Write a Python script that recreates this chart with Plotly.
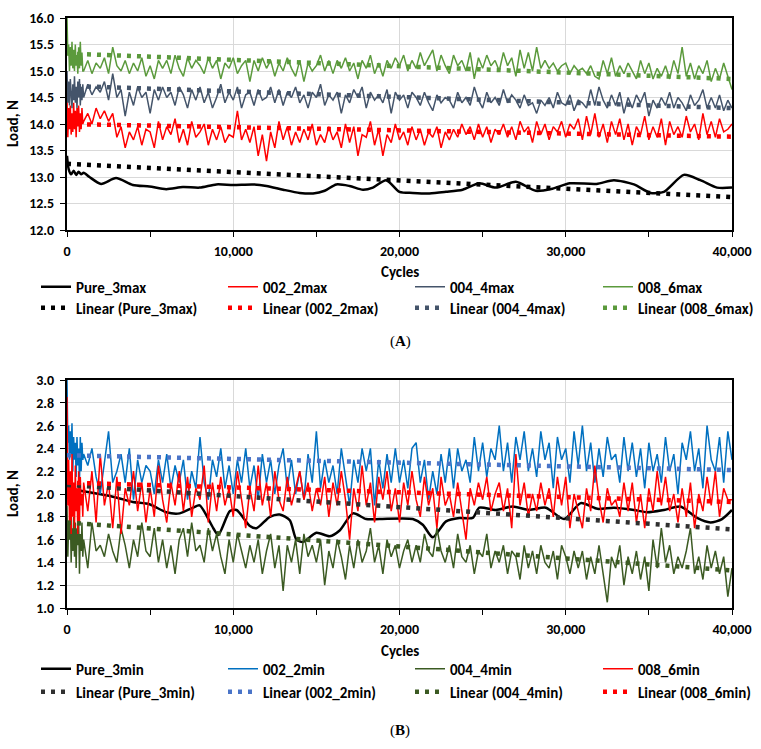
import plotly.graph_objects as go

# ---------------- DATA ----------------
cycles = list(range(0, 1000, 50)) + list(range(1000, 40001, 250))

# Panel A (max loads)
pure_max_x = [0, 100, 250, 400, 550, 700, 850, 1000, 1350, 2050,
              2950, 3960, 4960, 5970, 6970, 7980, 8980, 10000, 11200, 12000,
              13000, 14000, 14800, 15500, 16200, 17000, 17800, 18400, 19200, 20000,
              20800, 21800, 22800, 23800, 24800, 25800, 27000, 28200, 29200, 30250,
              31850, 32900, 34100, 35100, 35900, 37100, 38100, 39100, 40000]
pure_max_y = [13.4, 13.15, 13.05, 13.12, 13.04, 13.1, 13.05, 13.08, 13.0, 12.87,
              12.98, 12.85, 12.82, 12.77, 12.81, 12.8, 12.86, 12.85, 12.86, 12.83,
              12.76, 12.7, 12.69, 12.74, 12.86, 12.83, 12.76, 12.8, 12.94, 12.72,
              12.70, 12.69, 12.72, 12.76, 12.88, 12.80, 12.91, 12.74, 12.78, 12.88,
              12.87, 12.94, 12.86, 12.70, 12.72, 13.04, 12.94, 12.80, 12.80]

max_002 = [14.5, 13.75, 14.3, 13.9, 14.35, 13.8, 14.2, 13.85, 14.4, 13.9,
           14.25, 13.75, 14.3, 14.0, 14.35, 13.85, 14.2, 13.9, 14.3, 14.0,
           14.05, 14.2, 14.0, 14.3,
           14.1, 14.25, 14.05, 14.2,
           13.75, 13.95, 13.55, 13.85,
           13.7, 13.95, 13.6, 13.9,
           13.85, 13.55, 14.05, 13.7,
           13.95, 13.8, 14.1, 13.65,
           13.9, 13.6, 14.05, 13.75,
           13.85, 14.0, 13.6, 13.9,
           13.7, 13.95, 13.65, 13.8,
           13.75, 14.25, 13.7, 13.9,
           13.65, 13.95, 13.4, 13.8,
           13.3, 13.85, 13.55, 14.05,
           13.7, 13.95, 13.6, 13.85,
           13.65, 13.9, 13.7, 14.0,
           13.6, 13.8, 13.65, 13.95,
           13.7, 13.85, 13.55, 14.0,
           13.65, 13.95, 13.4, 13.8,
           13.75, 14.05, 13.6, 13.9,
           13.4, 13.8, 13.65, 14.0,
           13.7, 13.85, 13.6, 13.95,
           13.7, 13.9, 13.6, 13.85,
           13.75, 13.95, 13.55, 13.85,
           13.7, 13.9, 13.75, 14.0,
           13.8, 13.95, 13.7, 14.0,
           13.75, 13.95, 13.65, 13.9,
           13.8, 14.0, 13.75, 13.95,
           13.7, 14.05, 13.85, 13.95,
           13.65, 14.05, 13.8, 14.0,
           13.7, 13.95, 13.85, 14.05,
           13.75, 14.0, 13.9, 14.1,
           13.7, 14.15, 13.8, 14.2,
           13.75, 14.0, 13.65, 14.05,
           13.8, 14.1, 13.7, 14.0,
           13.6, 13.95, 13.8, 14.15,
           13.7, 13.95, 13.75, 14.1,
           13.6, 14.05, 13.8, 13.95,
           13.75, 14.15, 13.85, 14.0,
           13.7, 14.2, 13.8, 14.05,
           13.75, 14.1, 13.85, 13.9,
           14.0]

max_004 = [15.0, 14.4, 14.8, 14.35, 14.85, 14.5, 14.3, 14.75, 14.45, 14.9,
           14.4, 14.7, 14.3, 14.8, 14.5, 14.85, 14.35, 14.7, 14.45, 14.75,
           14.5, 14.75, 14.55, 14.7,
           14.6, 14.8, 14.45, 14.95,
           14.5, 14.65, 14.15, 14.6,
           14.35, 14.7, 14.5, 14.6,
           14.2, 14.65, 14.45, 14.7,
           14.5, 14.6, 14.35, 14.7,
           14.55, 14.3, 14.65, 14.45,
           14.7, 14.4, 14.6, 14.3,
           14.5, 14.75, 14.4, 14.6,
           14.45, 14.7, 14.3, 14.55,
           14.6, 14.35, 14.65, 14.45,
           14.5, 14.7, 14.4, 14.65,
           14.35, 14.6, 14.5, 14.7,
           14.4, 14.55, 14.3, 14.6,
           14.5, 14.75, 14.35, 14.55,
           14.45, 14.6, 14.2, 14.55,
           14.4, 14.65, 14.5, 14.7,
           14.3, 14.6, 14.45, 14.55,
           14.4, 14.65, 14.2, 14.6,
           14.45, 14.55, 14.3, 14.6,
           14.5, 14.35, 14.6, 14.4,
           14.25, 14.55, 14.4, 14.5,
           14.45, 14.3, 14.6, 14.4,
           14.5, 14.35, 14.7, 14.45,
           14.3, 14.6, 14.4, 14.5,
           14.35, 14.65, 14.4, 14.55,
           14.45, 14.3, 14.55, 14.35,
           14.4, 14.2, 14.45, 14.35,
           14.5, 14.3, 14.6, 14.4,
           14.35, 14.55, 14.25, 14.45,
           14.4, 14.3, 14.65, 14.35,
           14.7, 14.45, 14.3, 14.55,
           14.35, 14.6, 14.2, 14.5,
           14.3, 14.55, 14.4, 14.6,
           14.15, 14.45, 14.3, 14.5,
           14.35, 14.6, 14.3, 14.5,
           14.4, 14.25, 14.55, 14.35,
           14.45, 14.65, 14.3, 14.5,
           14.3, 14.55, 14.25, 14.45,
           14.3]

max_008 = [16.0, 15.3, 15.5, 15.0, 15.45, 15.1, 15.55, 15.05, 15.4, 15.0,
           15.5, 15.1, 15.3, 14.95, 15.45, 15.05, 15.55, 15.1, 15.35, 15.0,
           15.0, 15.2, 14.95, 15.15,
           15.05, 15.25, 14.95, 15.45,
           15.1, 15.0, 15.2, 14.95,
           15.15, 15.0, 15.25, 14.9,
           15.1, 14.85, 15.2, 15.05,
           15.2, 14.95, 15.3, 15.05,
           14.9, 15.25, 15.05, 15.2,
           15.1, 14.95, 15.25, 15.05,
           15.2, 14.85, 15.15, 15.05,
           15.25, 14.95, 15.1, 15.2,
           14.8, 15.2, 15.0, 15.25,
           15.05, 15.2, 14.9, 15.15,
           15.0, 15.25, 15.05, 14.9,
           15.2, 14.8, 15.15, 15.0,
           15.1, 15.3, 15.0, 15.2,
           14.95, 15.2, 15.05, 15.25,
           15.0, 15.15, 14.85, 15.2,
           15.05, 15.3, 14.95, 15.15,
           14.9, 15.2, 15.05, 15.25,
           15.1, 15.3, 15.0, 15.2,
           15.05, 15.35, 15.1, 15.25,
           15.4, 15.0, 15.3, 15.1,
           14.95, 15.3, 15.1, 15.2,
           15.0, 15.35, 14.85, 15.25,
           15.05, 15.3, 15.1, 15.2,
           15.0, 15.35, 15.1, 15.25,
           14.9, 15.4, 15.05, 15.35,
           15.0, 15.45, 15.05, 15.2,
           15.05, 15.15, 15.0, 15.1,
           15.15, 14.95, 15.1, 15.0,
           15.05, 14.95, 15.1, 14.9,
           14.85, 15.2, 14.95, 15.25,
           14.9, 15.1, 14.95, 15.15,
           15.0, 14.85, 15.2, 14.95,
           15.15, 14.85, 15.05, 14.9,
           15.1, 14.85, 15.2, 14.95,
           15.45, 14.9, 15.15, 14.85,
           15.1, 14.95, 15.2, 14.8,
           15.05, 14.85, 15.15, 14.9,
           14.65]

# Panel B (min loads)
pure_min_x = [0, 1150, 1950, 2950, 3960, 4960, 5970, 6780, 7580, 7980,
              8800, 9100, 9800, 10200, 11000, 11400, 12200, 12800, 13400, 13800,
              14200, 15000, 15800, 16400, 17200, 18000, 18800, 20800, 21400, 22000,
              22800, 23600, 24400, 24800, 25800, 26800, 27800, 28800, 29900, 30900,
              31900, 32900, 34100, 34900, 35900, 36900, 37900, 38700, 39400, 40000]
pure_min_y = [2.05, 2.02, 2.0, 1.97, 1.93, 1.91, 1.84, 1.83, 1.88, 1.90,
              1.70, 1.64, 1.85, 1.86, 1.72, 1.70, 1.80, 1.82, 1.77, 1.60,
              1.58, 1.66, 1.63, 1.68, 1.83, 1.78, 1.78, 1.78, 1.73, 1.62,
              1.76, 1.79, 1.79, 1.88, 1.86, 1.89, 1.86, 1.88, 1.78, 1.92,
              1.87, 1.88, 1.86, 1.84, 1.86, 1.89, 1.79, 1.75, 1.78, 1.86]

min_002 = [3.0, 2.45, 2.6, 2.3, 2.55, 2.35, 2.62, 2.2, 2.5, 2.3,
           2.45, 2.15, 2.5, 2.25, 2.4, 2.1, 2.5, 2.2, 2.45, 2.3,
           2.35, 2.25, 2.4, 2.15,
           2.0, 2.3, 2.55, 2.1,
           2.2, 2.35, 2.1, 2.4,
           1.95, 2.3, 2.1, 2.25,
           2.2, 2.0, 2.3, 2.1,
           2.35, 2.05, 2.25, 2.1,
           2.3, 1.95, 2.2, 2.05,
           2.5, 2.1, 1.95, 2.3,
           2.15, 2.4, 2.05, 2.25,
           2.0, 2.3, 2.1, 2.4,
           2.05, 2.25, 1.95, 2.35,
           2.1, 2.3, 2.0, 2.25,
           2.4, 2.05, 2.3, 2.0,
           2.2, 1.95, 2.35, 2.1,
           2.55, 2.05, 2.3, 2.1,
           2.25, 2.0, 2.4, 2.15,
           1.9, 2.3, 2.1, 2.4,
           2.2, 2.4, 1.9, 2.3,
           2.05, 2.35, 2.1, 2.4,
           2.1, 2.3, 2.05, 2.4,
           2.45, 2.1, 2.3, 1.95,
           2.2, 2.0, 2.35, 2.1,
           2.4, 2.05, 2.4, 2.2,
           2.3, 2.1, 2.5, 2.2,
           2.45, 2.15, 2.4, 2.3,
           2.6, 2.2, 2.45, 2.1,
           2.5, 2.3, 2.55, 2.2,
           2.4, 2.15, 2.55, 2.3,
           2.45, 2.05, 2.5, 2.3,
           2.4, 2.1, 2.55, 2.25,
           2.6, 2.2, 2.45, 2.1,
           2.4, 2.15, 2.5, 2.3,
           2.35, 2.1, 2.5, 2.2,
           2.45, 2.15, 2.4, 2.05,
           2.45, 2.2, 2.35, 2.1,
           2.5, 2.2, 2.35, 2.0,
           2.45, 2.3, 2.55, 2.2,
           2.4, 2.05, 2.6, 2.3,
           2.2, 2.5, 2.1, 2.55,
           2.3]

min_004 = [1.9, 1.45, 1.75, 1.6, 1.85, 1.4, 1.7, 1.5, 1.8, 1.45,
           1.75, 1.35, 1.7, 1.55, 1.8, 1.3, 1.65, 1.5, 1.75, 1.45,
           1.6, 1.35, 1.75, 1.5,
           1.55, 1.45, 1.65, 1.5,
           1.4, 1.7, 1.55, 1.35,
           1.6, 1.45, 1.75, 1.5,
           1.45, 1.7, 1.4, 1.6,
           1.35, 1.55, 1.3, 1.6,
           1.7, 1.45, 1.75, 1.5,
           1.55, 1.4, 1.7, 1.5,
           1.65, 1.45, 1.3, 1.6,
           1.4, 1.65, 1.5, 1.35,
           1.55, 1.4, 1.6, 1.3,
           1.5, 1.65, 1.35, 1.55,
           1.15, 1.55, 1.4, 1.6,
           1.3, 1.65, 1.45, 1.55,
           1.4, 1.6, 1.2, 1.5,
           1.35, 1.6, 1.45, 1.25,
           1.55, 1.35, 1.6, 1.4,
           1.5, 1.7, 1.4, 1.55,
           1.3, 1.6, 1.45, 1.55,
           1.35, 1.5, 1.6, 1.4,
           1.55, 1.4, 1.65, 1.5,
           1.45, 1.7, 1.5, 1.4,
           1.55, 1.35, 1.65, 1.45,
           1.4, 1.55, 1.3, 1.5,
           1.45, 1.65, 1.35, 1.5,
           1.4, 1.55, 1.3, 1.5,
           1.45, 1.25, 1.55, 1.35,
           1.5, 1.3, 1.55, 1.4,
           1.35, 1.5, 1.25, 1.55,
           1.45, 1.3, 1.5, 1.35,
           1.5, 1.25, 1.45, 1.3,
           1.55, 1.3, 1.05, 1.45,
           1.35, 1.55, 1.2, 1.45,
           1.3, 1.5, 1.25, 1.45,
           1.15, 1.6, 1.35, 1.7,
           1.4, 1.55, 1.3, 1.45,
           1.35, 1.5, 1.7, 1.3,
           1.45, 1.25, 1.55, 1.35,
           1.5, 1.3, 1.45, 1.1,
           1.35]

min_008 = [2.85, 1.9, 2.3, 1.75, 2.2, 1.65, 2.35, 1.8, 2.1, 1.7,
           2.25, 1.85, 2.05, 1.65, 2.2, 1.75, 2.15, 1.9, 2.0, 1.8,
           2.1, 1.85, 2.2, 1.75,
           2.35, 1.9, 2.1, 1.7,
           2.15, 1.65, 2.05, 1.9,
           2.2, 1.85, 2.1, 1.75,
           2.05, 1.8, 2.25, 1.95,
           1.75, 2.1, 1.9, 2.2,
           1.85, 2.15, 1.8, 2.05,
           1.95, 2.25, 1.75, 2.1,
           1.85, 2.15, 1.9, 2.05,
           1.8, 2.2, 1.95, 1.7,
           2.05, 1.85, 2.25, 1.9,
           2.1, 1.8, 2.2, 1.95,
           1.85, 2.15, 1.9, 2.05,
           2.2, 1.95, 2.1, 1.85,
           2.05, 1.9, 2.15, 1.8,
           2.1, 1.9, 2.2, 1.95,
           1.6, 2.05, 1.85, 2.25,
           1.9, 2.1, 1.75, 2.15,
           1.95, 2.2, 1.85, 2.05,
           1.75, 2.1, 1.9, 2.2,
           1.95, 1.8, 2.15, 1.9,
           2.05, 1.7, 2.15, 1.9,
           2.0, 1.8, 2.1, 1.85,
           1.6, 2.05, 1.9, 2.1,
           1.95, 2.15, 1.85, 2.0,
           2.1, 1.85, 2.05, 1.7,
           2.35, 1.9, 2.1, 1.8,
           2.0, 1.85, 2.1, 1.9,
           2.05, 1.8, 2.15, 1.9,
           2.15, 1.7, 2.0, 1.85,
           1.7, 2.05, 1.85, 2.25,
           1.95, 1.75, 2.05, 1.9,
           1.95, 1.8, 2.1, 1.85,
           2.1, 1.75, 2.0, 1.7,
           2.05, 1.85, 2.2, 1.9,
           2.15, 1.85, 2.0, 1.75,
           2.05, 1.8, 2.1, 1.7,
           2.0, 1.85, 2.15, 1.9,
           2.2, 1.8, 2.05, 1.95,
           1.95]

# Linear trend lines (value at 0 and at 40,000 cycles)
trend_x = [0, 40000]
trend_max_names = ["Pure_3max", "002_2max", "004_4max", "008_6max"]
trend_max_start = [13.25, 14.0, 14.72, 15.33]
trend_max_end = [12.62, 13.76, 14.3, 14.85]
trend_min_names = ["Pure_3min", "002_2min", "004_4min", "008_6min"]
trend_min_start = [2.08, 2.34, 1.75, 2.10]
trend_min_end = [1.69, 2.21, 1.33, 1.93]

x_ticks = [0, 10000, 20000, 30000, 40000]
x_ticktext = ["0", "10,000", "20,000", "30,000", "40,000"]

# ---------------- STYLE ----------------
W, H = 761, 749
FONT = "Carlito, Lato, 'Open Sans', sans-serif"
C_BLACK = "#000000"
C_RED = "#FF0000"
C_SLATE = "#44546A"
C_GREEN_A = "#5B9A3C"
C_BLUE = "#0070C0"
C_GREEN_B = "#3B5A22"
C_BLUE_TR = "#4A74C8"
C_GRAY_TR = "#303030"

def px_x(p):
    return p / W

def px_y(p):
    return 1 - p / H

fig = go.Figure()
legend_slots = []   # (legend id, column, row y)

def add_line(x, y, name, color, width, xa, ya, col, row_y, shape="linear", dash=None):
    lid = "legend" if not legend_slots else f"legend{len(legend_slots) + 1}"
    legend_slots.append((lid, col, row_y))
    line = dict(color=color, width=width, shape=shape)
    if shape == "spline":
        line["smoothing"] = 0.7
    if dash:
        line["dash"] = dash
    fig.add_trace(go.Scatter(x=x, y=y, mode="lines", name=name, line=line,
                             xaxis=xa, yaxis=ya, legend=lid, showlegend=True))

DOT = "4px,6px"
TW = 4.5
ROW_A1, ROW_A2, ROW_B1, ROW_B2 = 287, 308, 669, 692

# Panel A
solidA = [(pure_max_x, pure_max_y, "Pure_3max", C_BLACK, 2.5, "spline"),
          (cycles, max_002, "002_2max", C_RED, 1.5, "linear"),
          (cycles, max_004, "004_4max", C_SLATE, 1.5, "linear"),
          (cycles, max_008, "008_6max", C_GREEN_A, 1.5, "linear")]
for i, (x, y, nm, c, w, sh) in enumerate(solidA):
    add_line(x, y, nm, c, w, "x", "y", i, ROW_A1, shape=sh)
for i, (nm, s, e, c) in enumerate(zip(trend_max_names, trend_max_start, trend_max_end,
                                      [C_BLACK, C_RED, C_SLATE, C_GREEN_A])):
    add_line(trend_x, [s, e], f"Linear ({nm})", c, TW, "x", "y", i, ROW_A2, dash=DOT)

# Panel B
solidB = [(pure_min_x, pure_min_y, "Pure_3min", C_BLACK, 2.5, "spline"),
          (cycles, min_002, "002_2min", C_BLUE, 1.5, "linear"),
          (cycles, min_004, "004_4min", C_GREEN_B, 1.5, "linear"),
          (cycles, min_008, "008_6min", C_RED, 1.5, "linear")]
for i, (x, y, nm, c, w, sh) in enumerate(solidB):
    add_line(x, y, nm, c, w, "x2", "y2", i, ROW_B1, shape=sh)
for i, (nm, s, e, c) in enumerate(zip(trend_min_names, trend_min_start, trend_min_end,
                                      [C_GRAY_TR, C_BLUE_TR, C_GREEN_B, C_RED])):
    add_line(trend_x, [s, e], f"Linear ({nm})", c, TW, "x2", "y2", i, ROW_B2, dash=DOT)

tickfont = dict(family=FONT, size=14, color="black", weight="bold")

xaxis_common = dict(range=[0, 40000], tickvals=x_ticks, ticktext=x_ticktext,
                    showgrid=True, gridcolor="#D9D9D9", gridwidth=1,
                    ticks="outside", ticklen=5, tickcolor="black", tickwidth=1,
                    minor=dict(dtick=5000, tick0=0, ticks="outside", ticklen=5,
                               tickcolor="black", showgrid=False),
                    showline=True, linecolor="black", linewidth=2, mirror=True,
                    zeroline=False, tickfont=tickfont, fixedrange=True,
                    ticklabelstandoff=2)
yaxis_common = dict(showgrid=True, gridcolor="#D9D9D9", gridwidth=1,
                    ticks="outside", ticklen=5, tickcolor="black", tickwidth=1,
                    showline=True, linecolor="black", linewidth=2, mirror=True,
                    zeroline=False, tickfont=tickfont, tickformat=".1f",
                    fixedrange=True, ticklabelstandoff=3)

xa_dom = [px_x(67), px_x(732)]
fig.update_layout(
    width=W, height=H, autosize=False, showlegend=True,
    margin=dict(l=0, r=0, t=0, b=0, autoexpand=False),
    paper_bgcolor="white", plot_bgcolor="white",
    font=dict(family=FONT, size=14, color="black"),
    xaxis=dict(domain=xa_dom, anchor="y", **xaxis_common),
    yaxis=dict(domain=[px_y(230), px_y(18)], anchor="x", range=[12, 16], dtick=0.5,
               tick0=12, **yaxis_common),
    xaxis2=dict(domain=xa_dom, anchor="y2", **xaxis_common),
    yaxis2=dict(domain=[px_y(608), px_y(380)], anchor="x2", range=[1, 3], dtick=0.2,
                tick0=1, **yaxis_common),
)

legend_common = dict(orientation="h", xanchor="left", yanchor="middle",
                     font=dict(family=FONT, size=15, color="black", weight="bold"),
                     bgcolor="rgba(0,0,0,0)", borderwidth=0, itemwidth=30,
                     traceorder="normal", visible=True)
COL_X = [36, 223, 410, 598]
legend_layout = {}
for lid, col, row_y in legend_slots:
    legend_layout[lid] = dict(x=px_x(COL_X[col]), y=px_y(row_y), **legend_common)
fig.update_layout(**legend_layout)

ann_font = dict(family=FONT, size=15, color="black", weight="bold")
cap_font = dict(family="'Liberation Serif', 'Times New Roman', serif", size=15, color="black")
annotations = [
    dict(text="Cycles", x=px_x(400), y=px_y(272), xref="paper", yref="paper",
         showarrow=False, font=ann_font, xanchor="center", yanchor="middle"),
    dict(text="Load, N", x=px_x(13), y=px_y(124), xref="paper", yref="paper",
         showarrow=False, font=ann_font, textangle=-90, xanchor="center", yanchor="middle"),
    dict(text="(<b>A</b>)", x=px_x(400), y=px_y(342), xref="paper", yref="paper",
         showarrow=False, font=cap_font, xanchor="center", yanchor="middle"),
    dict(text="Cycles", x=px_x(400), y=px_y(651), xref="paper", yref="paper",
         showarrow=False, font=ann_font, xanchor="center", yanchor="middle"),
    dict(text="Load, N", x=px_x(13), y=px_y(494), xref="paper", yref="paper",
         showarrow=False, font=ann_font, textangle=-90, xanchor="center", yanchor="middle"),
    dict(text="(<b>B</b>)", x=px_x(400), y=px_y(730), xref="paper", yref="paper",
         showarrow=False, font=cap_font, xanchor="center", yanchor="middle"),
]
fig.update_layout(annotations=annotations)

fig.write_html("out.html", config={"displayModeBar": False, "responsive": False},
               post_script="document.body.style.margin='0';")
